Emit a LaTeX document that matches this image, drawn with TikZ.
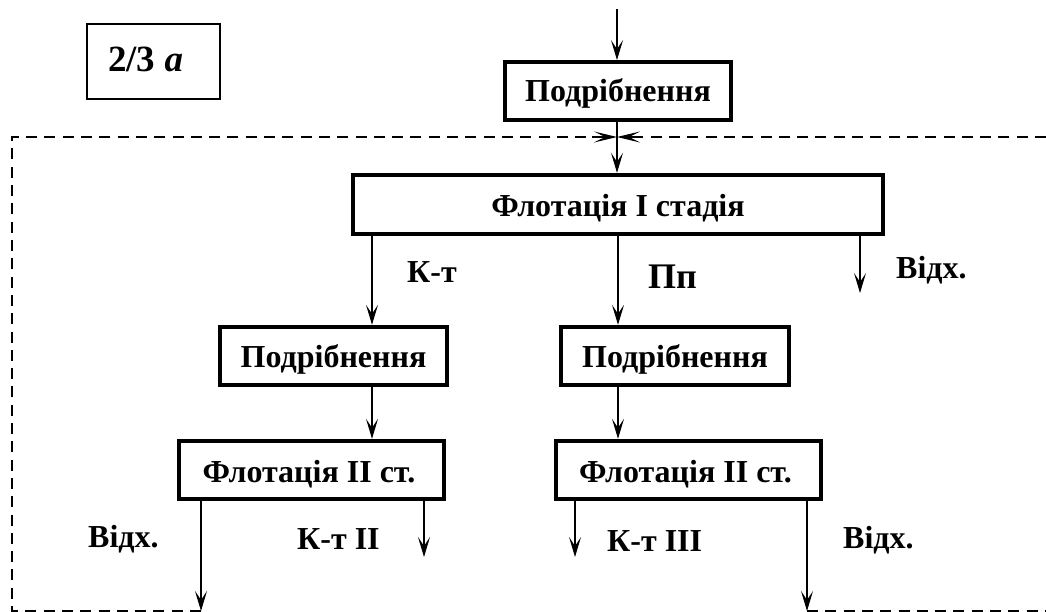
\documentclass[tikz,border=0pt]{standalone}
\usepackage{fontspec}
\setmainfont{Liberation Serif}
\usetikzlibrary{arrows.meta}
\begin{document}
\begin{tikzpicture}[x=1pt,y=-1pt,
  proc/.style={draw=black,line width=4.4pt,inner sep=0pt,text depth=0pt,font=\fontsize{32}{34}\selectfont\bfseries,align=center},
  lab/.style={anchor=base west,inner sep=0pt,font=\fontsize{32}{34}\selectfont\bfseries},
  flow/.style={line width=2.5pt,-{Stealth[length=20pt,width=12pt,inset=9pt,line width=1.1pt]}},
  fb/.style={line width=2.2pt,dash pattern=on 11pt off 7.3pt},
  fbtip/.style={line width=2.2pt,-{Stealth[length=23pt,width=11pt,inset=11pt,line width=1.1pt]}}]
\useasboundingbox (0,0) rectangle (1046,612);
% boxes
\node[draw=black,line width=2pt,minimum width=133pt,minimum height=75pt,inner sep=0pt] (tag) at (153.5,61.5) {};
\node[lab,font=\fontsize{37}{40}\selectfont\bfseries] (tagt) at (108,72) {2/3 \textit{a}};
\node[proc,minimum width=226pt,minimum height=57.5pt,text height=22pt] (p1) at (618,91) {Подрібнення};
\node[proc,minimum width=530pt,minimum height=59pt,text height=25pt] (f1) at (618,204.5) {Флотація I стадія};
\node[proc,minimum width=227pt,minimum height=58pt,text height=22pt] (p2) at (333.5,356) {Подрібнення};
\node[proc,minimum width=228pt,minimum height=58pt,text height=22pt] (p3) at (675,356) {Подрібнення};
\node[proc,minimum width=265pt,minimum height=58pt,text height=24pt] (f2) at (311.5,470) {\hspace*{-5pt}Флотація II ст.};
\node[proc,minimum width=265pt,minimum height=58pt,text height=24pt] (f3) at (688.5,470) {\hspace*{-6pt}Флотація II ст.};
% labels
\node[lab] (l1) at (407,282) {К-т};
\node[lab,font=\fontsize{36}{40}\selectfont\bfseries] (l2) at (648,288) {Пп};
\node[lab] (l3) at (896,279) {Відх.};
\node[lab] (l4) at (88,547) {Відх.};
\node[lab] (l5) at (297,549) {К-т II};
\node[lab] (l6) at (607,551) {К-т III};
\node[lab] (l7) at (843,548) {Відх.};
% free ends
\coordinate (in) at (617,9);
\coordinate (a1) at (372,232);
\coordinate (a2) at (618,232);
\coordinate (a3) at (860,234);
\coordinate (a3e) at (860,293);
\coordinate (b1) at (201,497);
\coordinate (b1e) at (201,611);
\coordinate (b2) at (424,499);
\coordinate (b2e) at (424,557);
\coordinate (b3) at (575,499);
\coordinate (b3e) at (575,557);
\coordinate (b4) at (807,497);
\coordinate (b4e) at (807,611);
\coordinate (tl) at (12,137);
\coordinate (tr) at (1046,137);
\coordinate (bl) at (12,611);
\coordinate (br) at (1046,611);
\coordinate (m) at (617,137);
\coordinate (ml) at (592,137);
\coordinate (mr) at (642,137);
% connectors
\draw[flow] (in) -- (in |- p1.north);
\draw[flow] (in |- p1.south) -- (in |- f1.north);
\draw[flow] (a1) -- (a1 |- p2.north);
\draw[flow] (a2) -- (a2 |- p3.north);
\draw[flow] (a3) -- (a3e);
\draw[flow] (a1 |- p2.south) -- (a1 |- f2.north);
\draw[flow] (a2 |- p3.south) -- (a2 |- f3.north);
\draw[flow] (b1) -- (b1e);
\draw[flow] (b2) -- (b2e);
\draw[flow] (b3) -- (b3e);
\draw[flow] (b4) -- (b4e);
% feedback
\draw[fb] (b1e) -- (bl) -- (tl) -- (ml);
\draw[fbtip] (ml) -- (m);
\draw[fb] (tr) -- (mr);
\draw[fbtip] (mr) -- (m);
\draw[fb] (b4e) -- (br);
\end{tikzpicture}
\end{document}
